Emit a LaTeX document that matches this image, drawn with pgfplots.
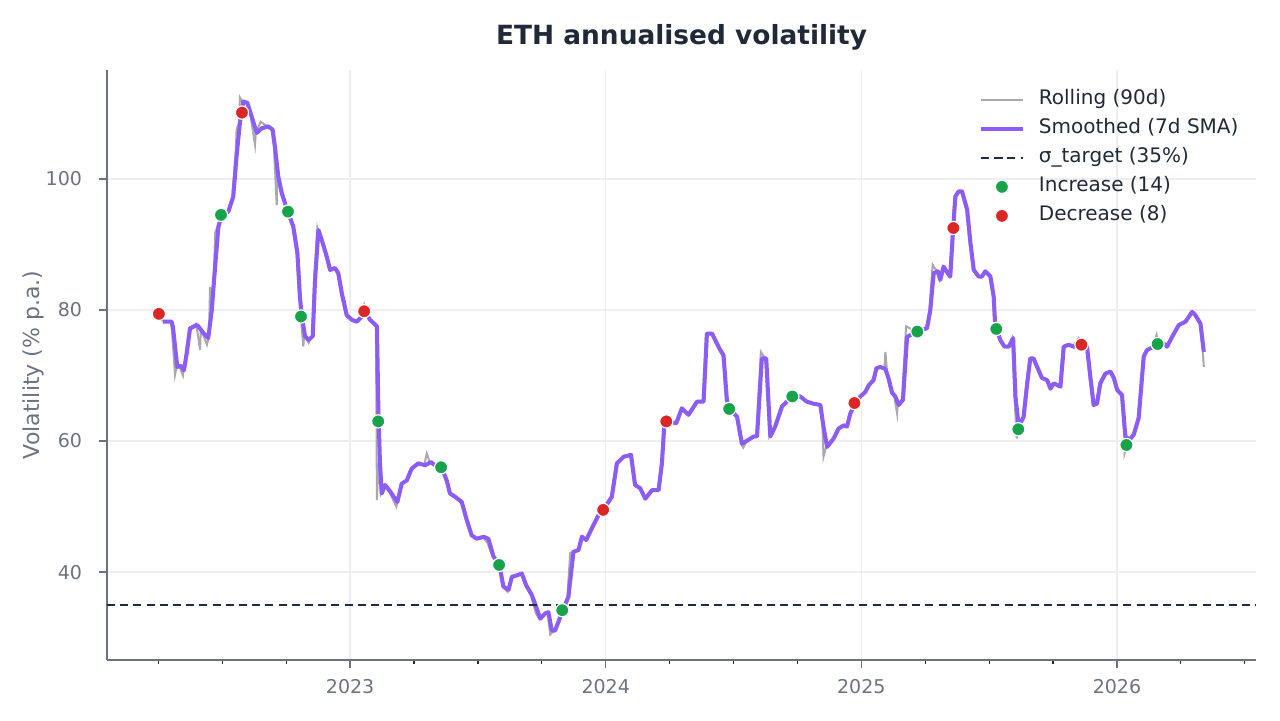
\documentclass[border=0pt]{standalone}
\usepackage{fontspec}
\setmainfont{DejaVu Sans}
\usepackage{pgfplots}
\pgfplotsset{compat=1.18}
\definecolor{cPurple}{HTML}{8B5CF6}
\definecolor{cGray}{HTML}{A8A8B0}
\definecolor{cGreen}{HTML}{16A34A}
\definecolor{cRed}{HTML}{DC2626}
\definecolor{cNavy}{HTML}{1F2A44}
\definecolor{cTitle}{HTML}{1F2937}
\definecolor{cTick}{HTML}{6B7280}
\definecolor{cGrid}{HTML}{EDEDF2}
\begin{document}
\begin{tikzpicture}
\path[use as bounding box] (0,0) rectangle (640pt,360pt);
\begin{axis}[
  at={(53.5pt,30pt)}, anchor=south west,
  scale only axis, width=574.5pt, height=295pt,
  xmin=2022.049, xmax=2026.544, ymin=26.6, ymax=116.6,
  axis x line*=bottom, axis y line*=left,
  axis line style={cTick, line width=0.75pt, -},
  tick align=outside,
  xtick={2023,2024,2025,2026},
  xticklabels={2023,2024,2025,2026},
  minor xtick={2022.25,2022.5,2022.75,2023.25,2023.5,2023.75,2024.25,2024.5,2024.75,2025.25,2025.5,2025.75,2026.25,2026.5},
  ytick={40,60,80,100},
  major tick length=3.8pt, minor tick length=2pt,
  major tick style={cTick, line width=0.7pt},
  minor tick style={black!85, line width=0.6pt},
  xmajorgrids, ymajorgrids,
  major grid style={cGrid, line width=0.75pt},
  /pgf/number format/assume math mode=true,
  ticklabel style={font=\fontsize{9.5}{11}\selectfont, text=cTick, inner sep=0pt},
  xticklabel shift=5.5pt, yticklabel shift=8.5pt,
  ylabel={Volatility (\% p.a.)},
  ylabel style={font=\fontsize{11}{13}\selectfont, text=cTick, at={(axis description cs:-0.0644,0.5)}, anchor=center, inner sep=0pt},
  title={ETH annualised volatility},
  title style={font=\fontsize{13.2}{16}\selectfont\bfseries, text=cTitle, at={(axis description cs:0.5,1)}, anchor=base, yshift=7pt, inner sep=0pt},
  legend image code/.code={\draw[mark repeat=2,mark phase=2,#1] plot coordinates {(0pt,0pt) (10.5pt,0pt) (21pt,0pt)};},
  legend style={draw=none, fill=none, at={(axis description cs:0.7585,0.967)}, anchor=north west, inner sep=0pt,
    font=\fontsize{10}{12}\selectfont, text=cTitle, row sep=4.5pt, column sep=7pt,
    nodes={inner sep=0pt, text height=7.5pt, text depth=2.5pt}},
  legend cell align=left,
]
% Rolling (90d)
\addplot[cGray, line width=1pt] coordinates {
(2022.262,78.6) (2022.264,78.4) (2022.298,78.2) (2022.303,77.0) (2022.315,70.1) (2022.322,71.5) (2022.333,71.3) (2022.346,70.0) (2022.357,73.4) (2022.370,77.2) (2022.398,77.9) (2022.413,73.9) (2022.416,77.0) (2022.422,76.5) (2022.440,74.7) (2022.448,76.0) (2022.452,83.5) (2022.455,80.0) (2022.468,86.6) (2022.472,91.8) (2022.481,92.7) (2022.494,94.5) (2022.520,95.0) (2022.539,97.3) (2022.553,104.5) (2022.556,107.5) (2022.565,108.5) (2022.569,112.4) (2022.578,111.8) (2022.594,111.6) (2022.611,109.5) (2022.628,105.2) (2022.631,107.0) (2022.650,108.7) (2022.676,108.0) (2022.693,107.5) (2022.702,104.9) (2022.713,96.0) (2022.715,100.4) (2022.729,97.8) (2022.748,95.5) (2022.774,92.7) (2022.790,88.7) (2022.800,82.0) (2022.807,79.0) (2022.817,74.4) (2022.820,76.0) (2022.833,75.4) (2022.838,75.0) (2022.850,76.0) (2022.859,84.6) (2022.872,92.5) (2022.889,90.2) (2022.905,88.1) (2022.918,86.1) (2022.937,86.4) (2022.950,85.6) (2022.964,82.5) (2022.983,79.2) (2023.003,78.5) (2023.022,78.2) (2023.042,79.0) (2023.055,80.8) (2023.074,78.5) (2023.101,77.5) (2023.105,51.0) (2023.110,56.6) (2023.120,52.0) (2023.133,53.3) (2023.153,52.3) (2023.181,50.0) (2023.198,53.5) (2023.218,54.0) (2023.237,55.8) (2023.263,56.6) (2023.290,56.3) (2023.300,58.1) (2023.312,56.8) (2023.329,56.3) (2023.355,55.9) (2023.374,54.0) (2023.387,52.0) (2023.407,51.5) (2023.433,50.7) (2023.453,47.9) (2023.472,45.6) (2023.492,45.1) (2023.518,45.4) (2023.537,44.5) (2023.557,42.4) (2023.580,41.1) (2023.596,37.8) (2023.616,37.0) (2023.629,39.3) (2023.648,39.5) (2023.668,39.8) (2023.685,38.0) (2023.707,36.5) (2023.727,33.7) (2023.740,32.9) (2023.759,33.7) (2023.772,33.9) (2023.783,30.5) (2023.798,31.1) (2023.811,32.4) (2023.828,34.2) (2023.850,36.2) (2023.861,42.9) (2023.870,43.1) (2023.890,43.4) (2023.903,45.4) (2023.920,44.9) (2023.942,46.7) (2023.968,48.7) (2023.987,49.5) (2024.020,51.5) (2024.040,56.6) (2024.066,57.6) (2024.095,57.9) (2024.111,53.3) (2024.131,52.8) (2024.151,51.2) (2024.177,52.5) (2024.203,52.5) (2024.216,56.6) (2024.225,62.2) (2024.236,63.1) (2024.272,62.7) (2024.294,65.0) (2024.320,64.0) (2024.353,66.0) (2024.379,66.0) (2024.392,76.4) (2024.412,76.4) (2024.431,74.9) (2024.444,73.9) (2024.457,73.1) (2024.470,66.3) (2024.481,64.9) (2024.510,63.7) (2024.529,59.6) (2024.538,59.0) (2024.555,60.2) (2024.575,60.7) (2024.588,60.7) (2024.607,73.6) (2024.624,72.6) (2024.640,60.7) (2024.659,62.2) (2024.686,65.3) (2024.725,66.8) (2024.757,66.8) (2024.783,66.0) (2024.809,65.7) (2024.836,65.5) (2024.848,62.2) (2024.852,57.6) (2024.862,59.1) (2024.888,60.4) (2024.907,61.9) (2024.927,62.4) (2024.940,62.2) (2024.953,64.2) (2024.973,65.8) (2024.992,66.8) (2025.012,67.5) (2025.025,68.5) (2025.044,69.3) (2025.055,71.1) (2025.070,71.3) (2025.090,71.0) (2025.094,73.6) (2025.103,69.5) (2025.116,67.4) (2025.129,66.8) (2025.140,64.2) (2025.142,65.5) (2025.159,66.3) (2025.175,77.5) (2025.214,76.7) (2025.253,77.2) (2025.266,80.0) (2025.279,86.9) (2025.295,85.9) (2025.305,84.6) (2025.318,86.6) (2025.334,85.6) (2025.344,85.1) (2025.355,92.2) (2025.364,97.3) (2025.377,98.1) (2025.390,98.1) (2025.410,95.3) (2025.423,90.2) (2025.436,86.1) (2025.455,85.1) (2025.468,85.1) (2025.481,85.9) (2025.501,85.1) (2025.514,82.0) (2025.520,77.5) (2025.527,76.9) (2025.540,75.4) (2025.556,74.4) (2025.573,74.4) (2025.590,75.7) (2025.599,66.8) (2025.608,60.4) (2025.612,62.2) (2025.631,63.7) (2025.645,68.8) (2025.657,72.6) (2025.670,72.6) (2025.684,71.3) (2025.703,69.6) (2025.723,69.3) (2025.736,68.0) (2025.749,68.8) (2025.775,68.3) (2025.788,74.4) (2025.807,74.7) (2025.827,74.4) (2025.850,75.7) (2025.860,74.7) (2025.879,74.4) (2025.892,69.8) (2025.905,65.5) (2025.918,65.7) (2025.931,68.8) (2025.951,70.3) (2025.971,70.6) (2025.984,69.6) (2025.997,67.8) (2026.016,67.0) (2026.029,60.7) (2026.030,58.1) (2026.046,60.2) (2026.062,61.0) (2026.081,63.5) (2026.101,72.9) (2026.114,73.9) (2026.140,74.4) (2026.155,76.2) (2026.160,74.9) (2026.179,74.9) (2026.192,74.4) (2026.212,75.9) (2026.238,77.7) (2026.264,78.2) (2026.290,79.7) (2026.303,79.2) (2026.323,77.9) (2026.336,73.6) (2026.340,71.3)
};
\addlegendentry{Rolling (90d)}
% Smoothed (7d SMA)
\addplot[cPurple, line width=2pt, line join=round] coordinates {
(2022.268,78.2) (2022.302,78.2) (2022.307,77.4) (2022.324,71.3) (2022.337,71.5) (2022.350,70.8) (2022.361,73.4) (2022.374,77.2) (2022.402,77.7) (2022.426,76.5) (2022.445,75.7) (2022.459,80.0) (2022.472,86.6) (2022.485,92.7) (2022.498,94.5) (2022.524,95.0) (2022.543,97.3) (2022.557,103.9) (2022.569,108.5) (2022.582,111.8) (2022.598,111.6) (2022.615,109.5) (2022.635,107.0) (2022.654,107.7) (2022.680,108.0) (2022.697,107.5) (2022.706,104.9) (2022.719,100.4) (2022.733,97.8) (2022.752,95.5) (2022.778,92.7) (2022.794,88.7) (2022.804,82.0) (2022.811,79.0) (2022.824,76.0) (2022.837,75.4) (2022.854,76.0) (2022.863,84.6) (2022.876,92.2) (2022.893,90.2) (2022.909,88.1) (2022.922,86.1) (2022.941,86.4) (2022.954,85.6) (2022.968,82.5) (2022.987,79.2) (2023.007,78.5) (2023.026,78.2) (2023.046,79.0) (2023.059,79.7) (2023.078,78.5) (2023.105,77.5) (2023.111,64.2) (2023.117,56.6) (2023.124,52.0) (2023.137,53.3) (2023.157,52.3) (2023.185,50.7) (2023.202,53.5) (2023.222,54.0) (2023.241,55.8) (2023.267,56.6) (2023.294,56.3) (2023.316,56.8) (2023.333,56.3) (2023.359,55.9) (2023.378,54.0) (2023.391,52.0) (2023.411,51.5) (2023.437,50.7) (2023.457,47.9) (2023.476,45.6) (2023.496,45.1) (2023.522,45.4) (2023.541,45.1) (2023.561,42.4) (2023.584,41.1) (2023.600,37.8) (2023.620,37.3) (2023.633,39.3) (2023.652,39.5) (2023.672,39.8) (2023.689,38.0) (2023.711,36.5) (2023.731,34.4) (2023.744,32.9) (2023.763,33.7) (2023.776,33.9) (2023.789,31.1) (2023.802,31.1) (2023.815,32.4) (2023.832,34.2) (2023.854,36.2) (2023.874,43.1) (2023.894,43.4) (2023.907,45.4) (2023.924,44.9) (2023.946,46.7) (2023.972,48.7) (2023.991,49.5) (2024.024,51.5) (2024.044,56.6) (2024.070,57.6) (2024.099,57.9) (2024.115,53.3) (2024.135,52.8) (2024.155,51.2) (2024.181,52.5) (2024.207,52.5) (2024.220,56.6) (2024.229,62.2) (2024.240,63.1) (2024.276,62.7) (2024.298,65.0) (2024.324,64.0) (2024.357,66.0) (2024.383,66.0) (2024.396,76.4) (2024.416,76.4) (2024.435,74.9) (2024.448,73.9) (2024.461,73.1) (2024.474,66.3) (2024.485,64.9) (2024.514,63.7) (2024.533,59.6) (2024.559,60.2) (2024.579,60.7) (2024.592,60.7) (2024.611,72.6) (2024.628,72.6) (2024.644,60.7) (2024.663,62.2) (2024.690,65.3) (2024.729,66.8) (2024.761,66.8) (2024.787,66.0) (2024.813,65.7) (2024.840,65.5) (2024.852,62.2) (2024.866,59.1) (2024.892,60.4) (2024.911,61.9) (2024.931,62.4) (2024.944,62.2) (2024.957,64.2) (2024.977,65.8) (2024.996,66.8) (2025.016,67.5) (2025.029,68.5) (2025.048,69.3) (2025.059,71.1) (2025.074,71.3) (2025.094,71.0) (2025.107,69.5) (2025.120,67.4) (2025.133,66.8) (2025.146,65.5) (2025.163,66.3) (2025.179,75.9) (2025.218,76.7) (2025.257,77.2) (2025.270,80.0) (2025.283,85.6) (2025.299,85.9) (2025.309,84.6) (2025.322,86.6) (2025.338,85.6) (2025.348,85.1) (2025.359,92.2) (2025.368,97.3) (2025.381,98.1) (2025.394,98.1) (2025.414,95.3) (2025.427,90.2) (2025.440,86.1) (2025.459,85.1) (2025.472,85.1) (2025.485,85.9) (2025.505,85.1) (2025.518,82.0) (2025.524,77.5) (2025.531,76.9) (2025.544,75.4) (2025.560,74.4) (2025.577,74.4) (2025.594,75.7) (2025.603,66.8) (2025.616,62.2) (2025.635,63.7) (2025.649,68.8) (2025.661,72.6) (2025.674,72.6) (2025.688,71.3) (2025.707,69.6) (2025.727,69.3) (2025.740,68.0) (2025.753,68.8) (2025.779,68.3) (2025.792,74.4) (2025.811,74.7) (2025.831,74.4) (2025.864,74.7) (2025.883,74.4) (2025.896,69.8) (2025.909,65.5) (2025.922,65.7) (2025.935,68.8) (2025.955,70.3) (2025.975,70.6) (2025.988,69.6) (2026.001,67.8) (2026.020,67.0) (2026.033,60.7) (2026.050,60.2) (2026.066,61.0) (2026.085,63.5) (2026.105,72.9) (2026.118,73.9) (2026.144,74.4) (2026.164,74.9) (2026.183,74.9) (2026.196,74.4) (2026.216,75.9) (2026.242,77.7) (2026.268,78.2) (2026.294,79.7) (2026.307,79.2) (2026.327,77.9) (2026.340,73.6)
};
\addlegendentry{Smoothed (7d SMA)}
% target
\addplot[cNavy, line width=1pt, dash pattern=on 4pt off 2.6pt] coordinates {(2022.049,35) (2026.544,35)};
\addlegendentry{σ\_target (35\%)}
% Increase
\addplot[only marks, mark=*, mark size=3.3pt, mark options={fill=cGreen, draw=white, line width=0.6pt}] coordinates {
(2022.495,94.5) (2022.757,95.0) (2022.808,79.0) (2023.110,63.0) (2023.356,56.0) (2023.583,41.1) (2023.830,34.2) (2024.483,64.9) (2024.730,66.8) (2025.219,76.7) (2025.528,77.1) (2025.614,61.8) (2026.037,59.4) (2026.159,74.8)
};
\addlegendentry{Increase (14)}
% Decrease
\addplot[only marks, mark=*, mark size=3.3pt, mark options={fill=cRed, draw=white, line width=0.6pt}] coordinates {
(2022.252,79.4) (2022.577,110.1) (2023.055,79.8) (2023.990,49.5) (2024.237,63.0) (2024.973,65.8) (2025.360,92.5) (2025.861,74.7)
};
\addlegendentry{Decrease (8)}
\end{axis}
\end{tikzpicture}
\end{document}
